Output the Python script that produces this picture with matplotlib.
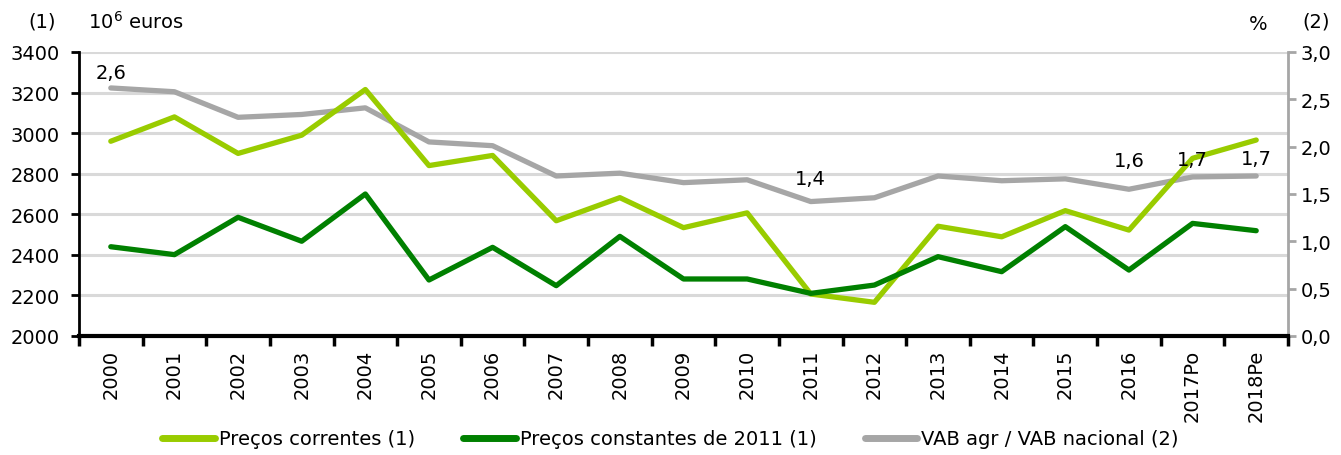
import matplotlib
matplotlib.use("Agg")
import matplotlib.pyplot as plt
import numpy as np
from matplotlib.ticker import FixedLocator, FuncFormatter
from matplotlib.transforms import blended_transform_factory

years = ["2000", "2001", "2002", "2003", "2004", "2005", "2006", "2007", "2008", "2009",
         "2010", "2011", "2012", "2013", "2014", "2015", "2016", "2017Po", "2018Pe"]
correntes = [2960, 3080, 2900, 2990, 3215, 2840, 2890, 2568, 2682, 2534,
             2607, 2207, 2166, 2541, 2489, 2618, 2522, 2876, 2966]
constantes = [2440, 2401, 2585, 2467, 2700, 2276, 2437, 2248, 2491, 2281,
              2281, 2210, 2251, 2391, 2317, 2539, 2325, 2555, 2519]
vab_pct = [2.62, 2.58, 2.31, 2.34, 2.41, 2.05, 2.01, 1.69, 1.72, 1.62,
           1.65, 1.42, 1.46, 1.69, 1.64, 1.66, 1.55, 1.68, 1.69]
label_idx = [0, 11, 16, 17, 18]
label_txt = ["2,6", "1,4", "1,6", "1,7", "1,7"]
label_dy = [4, 10, 14, 6, 6]

c_light = "#99cc00"
c_dark = "#008000"
c_gray = "#a6a6a6"
fs = 14

plt.rcParams['font.family'] = ['DejaVu Sans']
fig = plt.figure(figsize=(13.41, 4.56), dpi=100)
ax = fig.add_axes([0.0589, 0.261, 0.9016, 0.6228])
ax2 = ax.twinx()

x = np.arange(len(years))
ax.set_xlim(-0.5, len(years) - 0.5)
ax.set_ylim(2000, 3400)
ax2.set_ylim(0, 3.0)

# gridlines drawn in the back axes, positioned on the left scale
gtrans = blended_transform_factory(ax2.transAxes, ax.transData)
for yv in range(2200, 3401, 200):
    ax2.plot([0, 1], [yv, yv], transform=gtrans, color="#d9d9d9", lw=2.2, zorder=0)

l3, = ax2.plot(x, vab_pct, color=c_gray, lw=3.8, solid_capstyle='round', zorder=2,
               label="VAB agr / VAB nacional (2)")
l1, = ax.plot(x, correntes, color=c_light, lw=3.8, solid_capstyle='round', zorder=3,
              label="Preços correntes (1)")
l2, = ax.plot(x, constantes, color=c_dark, lw=3.8, solid_capstyle='round', zorder=3,
              label="Preços constantes de 2011 (1)")
ax.set_zorder(ax2.get_zorder() + 1)
ax.patch.set_visible(False)

for i, t, dy in zip(label_idx, label_txt, label_dy):
    ax.annotate(t, (x[i], vab_pct[i]), xycoords=ax2.transData, xytext=(0, dy),
                textcoords="offset points", ha="center", va="bottom", fontsize=fs,
                color="black", zorder=5)

# y ticks left
ax.set_yticks(range(2000, 3401, 200))
ax.tick_params(axis='y', labelsize=fs, length=6, width=2, direction='out', pad=8)
ax.spines['left'].set_linewidth(2)
ax.spines['bottom'].set_linewidth(3)
ax.spines['top'].set_visible(False)
ax.spines['right'].set_visible(False)

# x ticks
ax.set_xticks(x)
ax.set_xticklabels(years, rotation=90, fontsize=fs)
ax.xaxis.set_minor_locator(FixedLocator(np.arange(-0.5, len(years), 1.0)))
ax.tick_params(axis='x', which='major', length=0, pad=9)
ax.tick_params(axis='x', which='minor', length=7, width=2.5, direction='out')

# right axis
ax2.set_yticks(np.arange(0, 3.01, 0.5))
ax2.yaxis.set_major_formatter(FuncFormatter(lambda v, p: f"{v:.1f}".replace(".", ",")))
ax2.tick_params(axis='y', labelsize=fs, length=6, width=2, colors=c_gray, labelcolor="black", pad=3)
for s in ['left', 'top', 'bottom']:
    ax2.spines[s].set_visible(False)
ax2.spines['right'].set_color(c_gray)
ax2.spines['right'].set_linewidth(2)

fig.text(28 / 1341, 1 - 22 / 456, "(1)", fontsize=fs, ha="left", va="center")
fig.text(88 / 1341, 1 - 22 / 456, r"10$^{6}$ euros", fontsize=fs, ha="left", va="center")
fig.text(1258 / 1341, 1 - 25 / 456, "%", fontsize=fs, ha="center", va="center")
fig.text(1316 / 1341, 1 - 22 / 456, "(2)", fontsize=fs, ha="center", va="center")

leg = fig.legend(handles=[l1, l2, l3], loc="center", bbox_to_anchor=(0.5, 1 - 440 / 456),
                 ncol=3, frameon=False, fontsize=fs, handlelength=2.7, handletextpad=0.2,
                 columnspacing=2.5)
for h in leg.get_lines():
    h.set_linewidth(5)

fig.savefig("out.png", dpi=100)
